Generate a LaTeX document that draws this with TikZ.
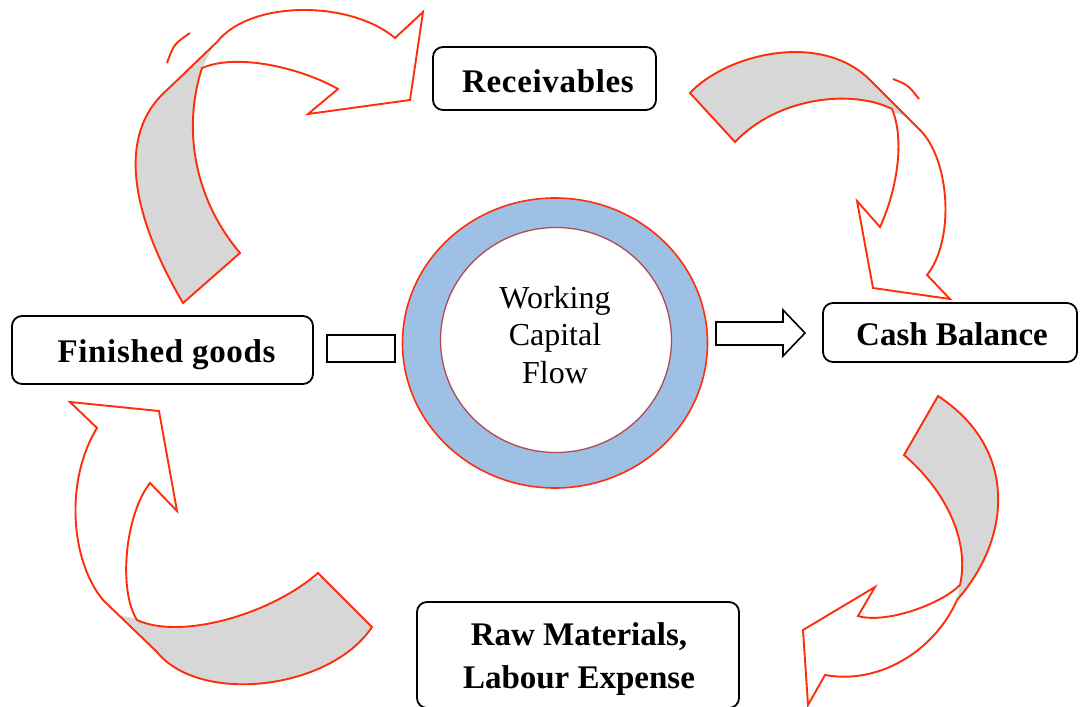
\documentclass[tikz,border=0pt]{standalone}
\usepackage{fontspec}
\setmainfont{Liberation Serif}
\usetikzlibrary{shapes.geometric}
\definecolor{arrred}{RGB}{255,45,10}
\definecolor{bandgray}{RGB}{215,215,215}
\definecolor{ringblue}{RGB}{157,192,228}
\definecolor{ringline}{RGB}{175,75,85}
\begin{document}
\begin{tikzpicture}[x=1pt,y=-1pt,
  lab/.style={draw=black, line width=1.8pt, rounded corners=10pt, fill=white, inner sep=0pt,
    font=\fontsize{33}{43}\selectfont\bfseries, align=center},
  labtext/.style={inner sep=0pt, font=\fontsize{33}{43}\selectfont\bfseries, align=center},
  curvline/.style={draw=arrred, line width=1.9pt, line join=miter},
  bandfill/.style={fill=bandgray},
  plainbox/.style={draw=black, line width=1.6pt, fill=white}]
\useasboundingbox (0,0) rectangle (1083,706);
\fill[white] (0,0) rectangle (1083,706);

% ---- curved arrow shapes ----
\def\tlshape{(183,303) .. controls (140,230) and (110,140) .. (167,90) -- (217,42) .. controls (250,0) and (350,0) .. (395,38) -- (423,12) -- (410,100) -- (308,114) -- (338,89) .. controls (305,70) and (240,52) .. (202,68) .. controls (182,130) and (195,200) .. (240,253) -- cycle}
\def\trshape{(690,93) .. controls (725,55) and (820,30) .. (870,80) -- (920,130) .. controls (950,160) and (955,240) .. (927,275) -- (950,299) -- (873,288) -- (857,201) -- (880,227) .. controls (897,190) and (905,140) .. (892,109) .. controls (855,90) and (780,95) .. (735,142) -- cycle}
\def\blshape{(70,402) -- (159,411) -- (177,511) -- (150,483) .. controls (125,515) and (118,590) .. (137,620) .. controls (180,640) and (270,615) .. (318,573) -- (372,627) .. controls (330,690) and (200,705) .. (157,652) -- (103,600) .. controls (70,560) and (65,480) .. (97,428) -- cycle}
\def\brshape{(938,396) .. controls (1020,450) and (1010,540) .. (957,600) .. controls (935,650) and (880,685) .. (825,675) -- (808,705) -- (803,630) -- (875,587) -- (858,616) .. controls (885,624) and (940,605) .. (960,585) .. controls (970,540) and (945,490) .. (904,455) -- cycle}

% top-left arrow
\fill[white] \tlshape;
\begin{scope}\clip \tlshape;
\fill[bandfill] (100,330) -- (100,95) -- (165,92) -- (212,48) -- (203,66) -- (270,260) -- (200,330) -- cycle;
\end{scope}
\draw[curvline] \tlshape;
\draw[curvline] (167,63) .. controls (174,44) .. (190,33);

% top-right arrow
\fill[white] \trshape;
\begin{scope}\clip \trshape;
\fill[bandfill] (650,20) -- (875,20) -- (875,78) -- (910,118) -- (893,112) -- (860,200) -- (650,200) -- cycle;
\end{scope}
\draw[curvline] \trshape;
\draw[curvline] (893,79) .. controls (908,85) .. (919,99);

% bottom-left arrow
\fill[white] \blshape;
\begin{scope}\clip \blshape;
\fill[bandfill] (105,612) -- (137,619) -- (400,560) -- (400,720) -- (105,720) -- cycle;
\end{scope}
\draw[curvline] \blshape;

% bottom-right arrow
\fill[white] \brshape;
\begin{scope}\clip \brshape;
\fill[bandfill] (880,380) -- (1030,380) -- (1030,540) -- (957,601) -- (960,585) -- (940,560) -- (880,500) -- cycle;
\end{scope}
\draw[curvline] \brshape;

% ---- central ring ----
\node[ellipse, minimum width=305pt, minimum height=290pt, inner sep=0pt, fill=ringblue, draw=arrred, line width=1.6pt] (ring) at (555,343) {};
\node[ellipse, minimum width=231pt, minimum height=225pt, inner sep=0pt, fill=white, draw=ringline, line width=1.3pt] (hole) at (556,340) {};
\node[font=\fontsize{32}{37.5}\selectfont, align=center, inner sep=0pt] (wcf) at (555,334.7) {Working\\Capital\\Flow};

% ---- small bar and block arrow ----
\node[plainbox, minimum width=68pt, minimum height=27pt, inner sep=0pt] (bar) at (361,348.5) {};
\draw[plainbox] (716,322) -- (783,322) -- (783,310) -- (805,333) -- (783,356) -- (783,345) -- (716,345) -- cycle;

% ---- labelled boxes ----
\node[lab, minimum width=223pt, minimum height=63pt, text height=29pt, text depth=0pt] (rec) at (544.5,78.5) {\hspace*{7pt}\addfontfeature{LetterSpace=2}Receivables};
\node[lab, minimum width=254pt, minimum height=59pt, text height=25pt, text depth=0pt] (cash) at (950,332.5) {\hspace*{4pt}Cash Balance};
\node[lab, minimum width=301pt, minimum height=68pt, text height=24pt, text depth=0pt] (fin) at (162.5,350) {\hspace*{8pt}\addfontfeature{LetterSpace=2}Finished goods};
\node[lab, minimum width=322pt, minimum height=106pt] (rawbox) at (578,655) {};
\node[labtext] (raw) at (579,658.75) {Raw Materials,\\Labour Expense};
\end{tikzpicture}
\end{document}
